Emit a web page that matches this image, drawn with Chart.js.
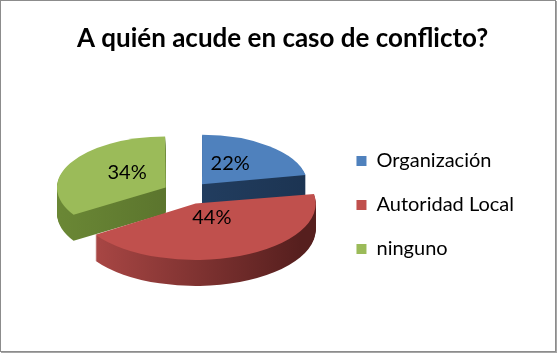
<!DOCTYPE html>
<html>
<head>
<meta charset="utf-8">
<script src="https://cdn.jsdelivr.net/npm/chart.js@4.4.1/dist/chart.umd.min.js"></script>
<style>
    html, body { margin: 0; padding: 0; background: #fff; }
    #frame {
        position: absolute; left: 0; top: 0;
        width: 554px; height: 350px;
        border: 1px solid #8c8c8c;
        box-shadow: 1px 1px 0 #a6a6a6;
    }
    #chart { position: absolute; left: 0; top: 0; }
</style>
</head>
<body>
<div id="frame"><canvas id="chart" width="554" height="350"></canvas></div>
<script>
// Chart data
const categories = ['Organización', 'Autoridad Local', 'ninguno'];
const shares = [22, 44, 34];
const pctLabels = ['22%', '44%', '34%'];

const topColors = ['#4f81bd', '#c0504d', '#9bbb59'];
const sideColors = [['#27466c', '#1c3452'], ['#aa4745', '#561f1e'], ['#6a8735', '#4d6326']];

const TILT = 0.47;      // vertical squash of the pie plane
const DEPTH = 26;       // extrusion height in px
const PIE_Y = 192;      // screen y of the pie centre
const EXPLODE = 24;     // px each slice is pulled out (arc draws offset / 4)
const LABEL_R = 0.42;   // label distance as a share of the radius

function tilt(ctx, arc) {
    ctx.translate(0, PIE_Y);
    ctx.scale(1, TILT);
    ctx.translate(0, -arc.y);
}

// Draws the pie flattened with a 3D side, plus the percent labels
const pie3d = {
    id: 'pie3d',
    beforeDatasetsDraw(chart) {
        const ctx = chart.ctx;
        const arcs = chart.getDatasetMeta(0).data;
        for (let d = DEPTH; d >= 1; d--) {
            arcs.forEach((arc, i) => {
                const r = arc.outerRadius;
                ctx.save();
                ctx.translate(0, d);
                tilt(ctx, arc);
                const grad = ctx.createLinearGradient(arc.x - r, 0, arc.x + r, 0);
                grad.addColorStop(0, sideColors[i][0]);
                grad.addColorStop(1, sideColors[i][1]);
                const keep = arc.options.backgroundColor;
                arc.options.backgroundColor = grad;
                arc.draw(ctx);
                arc.options.backgroundColor = keep;
                ctx.restore();
            });
        }
        ctx.save();
        tilt(ctx, arcs[0]);
    },
    afterDatasetsDraw(chart) {
        const ctx = chart.ctx;
        ctx.restore();
        const arcs = chart.getDatasetMeta(0).data;
        ctx.save();
        ctx.font = '20px Lato, "Open Sans", sans-serif';
        ctx.fillStyle = '#000';
        ctx.textAlign = 'center';
        ctx.textBaseline = 'middle';
        arcs.forEach((arc, i) => {
            const mid = (arc.startAngle + arc.endAngle) / 2;
            const dist = EXPLODE + LABEL_R * arc.outerRadius;
            const x = arc.x + Math.cos(mid) * dist;
            const y = PIE_Y + Math.sin(mid) * dist * TILT - 5;
            ctx.fillText(pctLabels[i], x, y);
        });
        ctx.restore();
    }
};

function init() {
    const ctx = document.getElementById('chart').getContext('2d');
    new Chart(ctx, {
        type: 'pie',
        data: {
            labels: categories,
            datasets: [{
                data: shares,
                backgroundColor: topColors,
                borderWidth: 0,
                offset: EXPLODE * 4,
                clip: false
            }]
        },
        options: {
            responsive: false,
            animation: false,
            radius: 105,
            layout: {
                padding: { left: 40, right: 31, top: 12, bottom: 68 }
            },
            plugins: {
                title: {
                    display: true,
                    text: 'A quién acude en caso de conflicto?',
                    color: '#000',
                    font: { family: 'Lato, "Open Sans", sans-serif', size: 26, weight: 'bold' },
                    padding: 10
                },
                legend: {
                    position: 'right',
                    align: 'end',
                    labels: {
                        boxWidth: 10,
                        boxHeight: 10,
                        padding: 24,
                        color: '#000',
                        font: { family: 'Lato, "Open Sans", sans-serif', size: 20 }
                    }
                },
                tooltip: { enabled: false }
            }
        },
        plugins: [pie3d]
    });
}

init();
</script>
</body>
</html>
